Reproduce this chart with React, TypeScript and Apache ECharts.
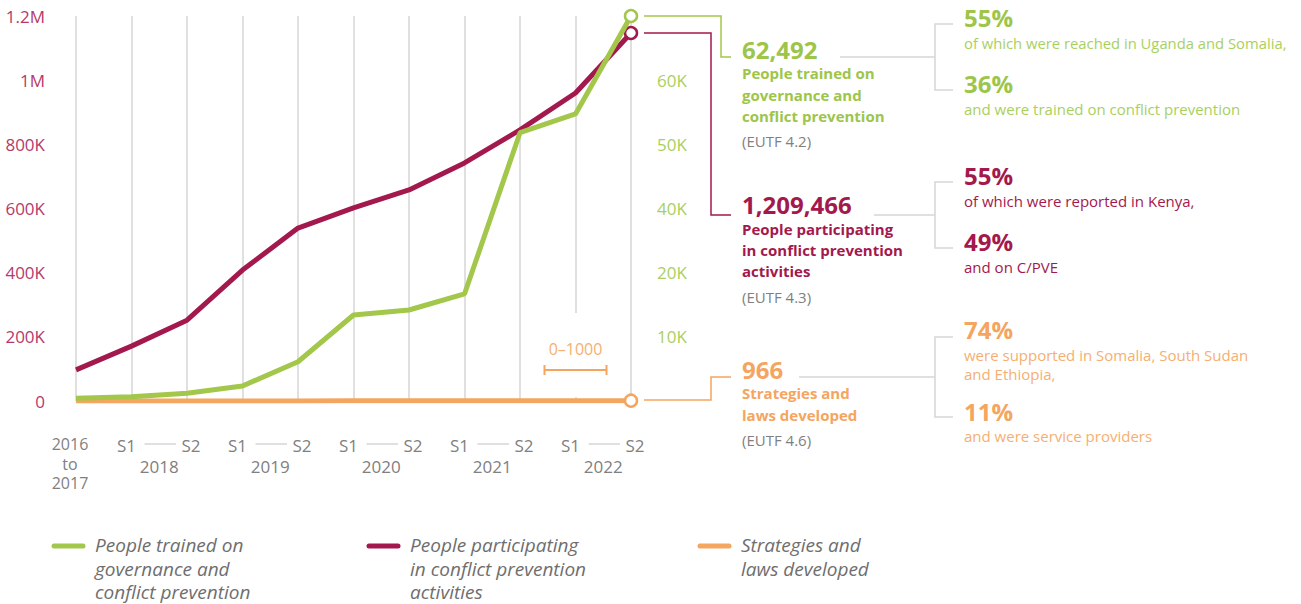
import React, { useEffect, useRef } from "react";
import * as echarts from "echarts";

// ---------- data ----------
const categories = [
  "2016–2017",
  "2018 S1", "2018 S2",
  "2019 S1", "2019 S2",
  "2020 S1", "2020 S2",
  "2021 S1", "2021 S2",
  "2022 S1", "2022 S2",
];
const firstPeriodLines = ["2016", "to", "2017"];
const yearLabels = ["2018", "2019", "2020", "2021", "2022"];

// People participating in conflict prevention activities (left axis)
const participating = [97000, 171000, 252000, 408000, 539000, 602000, 658000, 742000, 845000, 960000, 1147000];
// People trained on governance and conflict prevention (right axis, as drawn)
const trained = [420, 670, 1200, 2340, 6120, 13400, 14180, 16680, 41810, 44730, 60000];
// Strategies and laws developed (left axis, 0–1000 range, flat at this scale)
const strategies = [40, 90, 150, 230, 320, 410, 500, 600, 720, 850, 966];

const leftTickLabels: Record<number, string> = {
  0: "0", 200000: "200K", 400000: "400K", 600000: "600K",
  800000: "800K", 1000000: "1M", 1200000: "1.2M",
};
const rightTickLabels = ["", "10K", "20K", "40K", "50K", "60K", ""];

// ---------- style ----------
const GREEN = "#A2C74B";
const GREEN_TXT = "#9DC54A";
const GREEN_LIGHT = "#A9D05E";
const RED = "#A3184D";
const RED_AXIS = "#B5396B";
const ORANGE = "#F4A560";
const ORANGE_LIGHT = "#F5AF72";
const GREY = "#808080";
const LINE_GREY = "#D6D6D6";
const FONT = "'Open Sans', sans-serif";

function txt(x: number, y: number, text: string, fill: string, fontSize: number, fontWeight: string | number = "normal", extra: any = {}) {
  return {
    type: "text",
    x, y,
    style: {
      text, fill, fontSize, fontWeight, fontFamily: FONT,
      align: "left", verticalAlign: "middle", ...extra,
    },
  };
}
function pl(points: number[][], stroke: string, lineWidth = 1.5) {
  return { type: "polyline", shape: { points }, style: { stroke, lineWidth, fill: null } };
}

export default function App() {
  const ref = useRef<HTMLDivElement>(null);
  useEffect(() => {
    document.body.style.margin = "0";
    const chart = echarts.init(ref.current!, null, { renderer: "svg" });
    const last = categories.length - 1;
    const endSym = (color: string) => ({
      symbol: (_v: any, p: any) => (p.dataIndex === last ? "circle" : "none"),
      symbolSize: 12,
      showSymbol: true,
      showAllSymbol: true,
      itemStyle: { color: "#ffffff", borderColor: color, borderWidth: 2.5 },
    });

    chart.setOption({
      animation: false,
      grid: { left: 76, right: 670, top: 16, bottom: 203 },
      xAxis: {
        type: "category",
        data: categories,
        boundaryGap: false,
        axisLine: { show: false },
        axisTick: { show: false },
        splitLine: { show: true, lineStyle: { color: LINE_GREY, width: 1.5 } },
        axisLabel: {
          margin: 36,
          interval: 0,
          color: GREY,
          fontFamily: FONT,
          fontSize: 17,
          formatter: (v: string) => {
            if (v.indexOf("S1") >= 0) return "{s1|S1}";
            if (v.indexOf("S2") >= 0) return "{s2|S2}";
            return "";
          },
          rich: {
            s1: { padding: [0, 10, 0, 0], color: GREY, fontFamily: FONT, fontSize: 17 },
            s2: { padding: [0, 0, 0, 8], color: GREY, fontFamily: FONT, fontSize: 17 },
          },
        },
      },
      yAxis: [
        {
          type: "value",
          min: 0, max: 1200000, interval: 200000,
          axisLine: { show: false }, axisTick: { show: false }, splitLine: { show: false },
          axisLabel: {
            margin: 31, color: RED_AXIS, fontFamily: FONT, fontSize: 17,
            formatter: (v: number) => leftTickLabels[v] ?? "",
          },
        },
        {
          type: "value",
          position: "right",
          min: 0, max: 60000, interval: 10000,
          axisLine: { show: false }, axisTick: { show: false }, splitLine: { show: false },
          axisLabel: {
            margin: 26, color: GREEN_LIGHT, fontFamily: FONT, fontSize: 17,
            formatter: (v: number) => rightTickLabels[Math.round(v / 10000)] ?? "",
          },
        },
      ],
      series: [
        {
          name: "Strategies and laws developed",
          type: "line", yAxisIndex: 0, data: strategies,
          lineStyle: { color: ORANGE, width: 5 }, z: 2,
          ...endSym(ORANGE),
        },
        {
          name: "People participating in conflict prevention activities",
          type: "line", yAxisIndex: 0, data: participating,
          lineStyle: { color: RED, width: 5 }, z: 3,
          ...endSym(RED),
        },
        {
          name: "People trained on governance and conflict prevention",
          type: "line", yAxisIndex: 1, data: trained,
          lineStyle: { color: GREEN, width: 5 }, z: 4,
          ...endSym(GREEN),
        },
      ],
    });

    const px = (i: number) => chart.convertToPixel({ xAxisIndex: 0 }, i) as number;
    const g: any[] = [];

    // shorten split line at 2022 S1 (drawn first, so everything else lies above it)
    const x9 = px(9);
    g.push({ type: "rect", shape: { x: x9 - 3, y: 313, width: 6, height: 84 }, style: { fill: "#ffffff" } });

    // first period label
    const x0 = px(0);
    firstPeriodLines.forEach((t, i) => {
      g.push(txt(x0 - 6, 444 + i * 19.5, t, GREY, 16, "normal", { align: "center" }));
    });
    // year labels and dashes
    yearLabels.forEach((y, k) => {
      const a = px(1 + 2 * k);
      const b = px(2 + 2 * k);
      g.push(pl([[a + 13, 444], [b - 11, 444]], LINE_GREY, 1.5));
      g.push(txt((a + b) / 2, 466, y, GREY, 17, "normal", { align: "center" }));
    });
    // 0–1000 scale bar
    g.push(txt(x9, 349, "0–1000", ORANGE_LIGHT, 16, "normal", { align: "center" }));
    g.push(pl([[x9 - 31, 370], [x9 + 31, 370]], ORANGE, 2));
    g.push(pl([[x9 - 31, 365], [x9 - 31, 375]], ORANGE, 2));
    g.push(pl([[x9 + 31, 365], [x9 + 31, 375]], ORANGE, 2));

    // connectors from end points
    g.push(pl([[644, 16], [721, 16], [721, 57], [731, 57]], GREEN, 1.5));
    g.push(pl([[644, 33], [711, 33], [711, 215], [731, 215]], RED, 1.5));
    g.push(pl([[644, 400], [711, 400], [711, 377], [731, 377]], ORANGE, 1.5));

    // green block
    g.push(txt(742, 49, "62,492", GREEN_TXT, 24, "bold"));
    g.push(txt(742, 73, "People trained on", GREEN_TXT, 15, "bold"));
    g.push(txt(742, 95, "governance and", GREEN_TXT, 15, "bold"));
    g.push(txt(742, 116, "conflict prevention", GREEN_TXT, 15, "bold"));
    g.push(txt(742, 141, "(EUTF 4.2)", GREY, 15));
    g.push(pl([[840, 57], [935, 57]], LINE_GREY, 1.5));
    g.push(pl([[953, 24], [935, 24], [935, 90], [953, 90]], LINE_GREY, 1.5));
    g.push(txt(964, 17, "55%", GREEN_TXT, 24, "bold"));
    g.push(txt(964, 43, "of which were reached in Uganda and Somalia,", GREEN_LIGHT, 14.8));
    g.push(txt(964, 83, "36%", GREEN_TXT, 24, "bold"));
    g.push(txt(964, 109, "and were trained on conflict prevention", GREEN_LIGHT, 15));

    // red block
    g.push(txt(742, 204, "1,209,466", RED, 24, "bold"));
    g.push(txt(742, 229, "People participating", RED, 15, "bold"));
    g.push(txt(742, 250, "in conflict prevention", RED, 15, "bold"));
    g.push(txt(742, 271, "activities", RED, 15, "bold"));
    g.push(txt(742, 297, "(EUTF 4.3)", GREY, 15));
    g.push(pl([[874, 215], [935, 215]], LINE_GREY, 1.5));
    g.push(pl([[953, 182], [935, 182], [935, 248], [953, 248]], LINE_GREY, 1.5));
    g.push(txt(964, 175, "55%", RED, 24, "bold"));
    g.push(txt(964, 201, "of which were reported in Kenya,", RED, 15));
    g.push(txt(964, 241, "49%", RED, 24, "bold"));
    g.push(txt(964, 267, "and on C/PVE", RED, 15));

    // orange block
    g.push(txt(742, 369, "966", ORANGE, 24, "bold"));
    g.push(txt(742, 393, "Strategies and", ORANGE, 15, "bold"));
    g.push(txt(742, 415, "laws developed", ORANGE, 15, "bold"));
    g.push(txt(742, 440, "(EUTF 4.6)", GREY, 15));
    g.push(pl([[799, 377], [935, 377]], LINE_GREY, 1.5));
    g.push(pl([[953, 337], [935, 337], [935, 417], [953, 417]], LINE_GREY, 1.5));
    g.push(txt(964, 329, "74%", ORANGE, 24, "bold"));
    g.push(txt(964, 355, "were supported in Somalia, South Sudan", ORANGE_LIGHT, 15));
    g.push(txt(964, 374, "and Ethiopia,", ORANGE_LIGHT, 15));
    g.push(txt(964, 411, "11%", ORANGE, 24, "bold"));
    g.push(txt(964, 436, "and were service providers", ORANGE_LIGHT, 15));

    // legend
    const legend = [
      { x: 52, color: GREEN, lines: ["People trained on", "governance and", "conflict prevention"] },
      { x: 367, color: RED, lines: ["People participating", "in conflict prevention", "activities"] },
      { x: 698, color: ORANGE, lines: ["Strategies and", "laws developed"] },
    ];
    legend.forEach((l) => {
      g.push({ type: "line", shape: { x1: l.x + 2, y1: 546, x2: l.x + 31, y2: 546 }, style: { stroke: l.color, lineWidth: 5, lineCap: "round" } });
      l.lines.forEach((t, i) => {
        g.push(txt(l.x + 43, 545 + i * 23.5, t, "#6E6E6E", 19, "normal", { fontStyle: "italic" }));
      });
    });

    chart.setOption({ graphic: { elements: g } });

    return () => chart.dispose();
  }, []);
  return <div ref={ref} style={{ width: 1301, height: 604 }} />;
}
